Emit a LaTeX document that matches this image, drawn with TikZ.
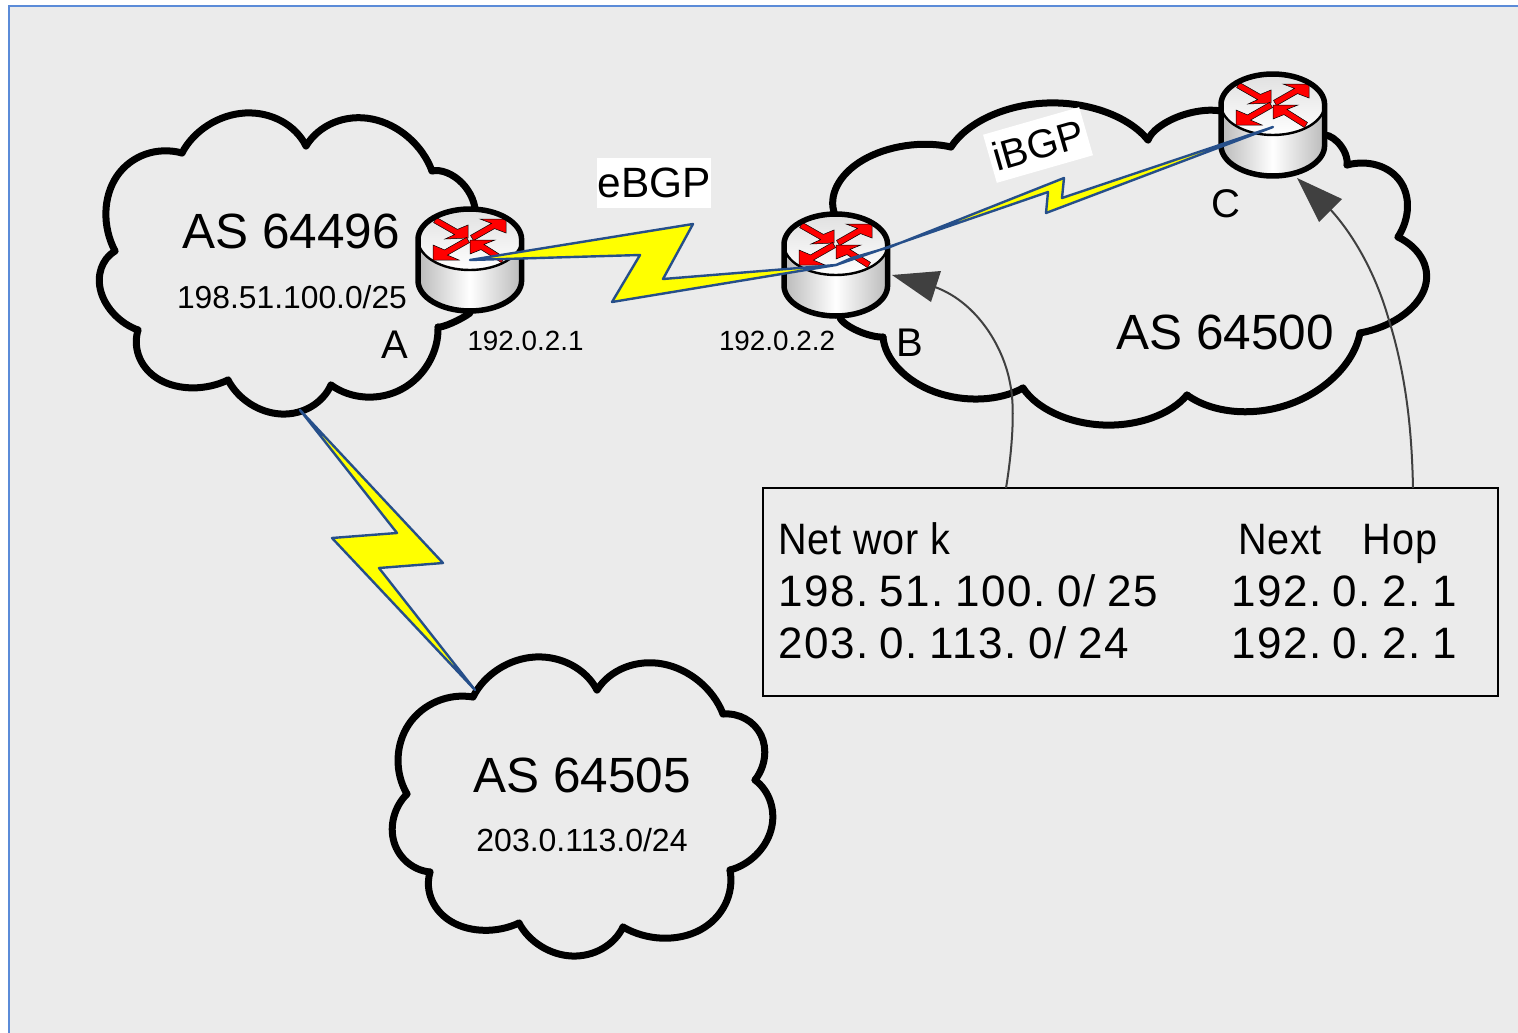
\documentclass[tikz,border=0pt]{standalone}
\usepackage{fontspec}
\setmainfont{Liberation Sans}
\newfontfamily\tblfont[LetterSpace=3.4]{Liberation Sans}
\newfontfamily\tblhead[FakeStretch=0.9,LetterSpace=1.8]{Liberation Sans}
\newcommand{\fs}[1]{\fontsize{#1}{#1}\selectfont}
\definecolor{bgc}{HTML}{EBEBEB}
\definecolor{framec}{HTML}{5B8BD8}
\definecolor{boltc}{HTML}{264F8A}
\definecolor{callc}{HTML}{404040}
\definecolor{boltfill}{HTML}{FFFF00}
\definecolor{arrowred}{HTML}{FF0000}
\tikzset{
  x=1pt,y=-1pt,
  cloudline/.style={draw=black,line width=7pt,line cap=round,line join=round},
  bolt/.style={draw=boltc,fill=boltfill,line width=2.4pt,line join=round},
  lbl/.style={anchor=base,inner sep=0pt,text=black},
  whitebox/.style={fill=white,inner sep=0pt,minimum height=50pt,text=black},
  tbltext/.style={anchor=base west,inner sep=0pt,text=black},
  callout/.style={draw=callc,line width=2pt},
  callhead/.style={fill=callc,draw=none},
  rarrow/.style={fill=arrowred,draw=black,line width=.5pt,line join=miter},
  routerpic/.pic={
    \path[shade,left color=black!27,right color=black!27,middle color=white]
      (418,239.5) -- (418,280.5) .. controls (418,297.4) and (441.5,311) .. (469.8,311)
      .. controls (498.1,311) and (521.6,297.4) .. (521.6,280.5) -- (521.6,239.5) -- cycle;
    \draw[line width=2.4pt,top color=black!12,bottom color=white]
      (469.8,239.5) ellipse [x radius=51.8,y radius=30.5];
    \draw[rarrow] (433.6,222.6) -- (454.6,234.6) -- (445,239) -- (468,238) -- (468,225) -- (457.4,229.4) -- (436.4,217.4) -- cycle;
    \draw[rarrow] (473.5,240.6) -- (494.5,228.6) -- (506,233) -- (506,219) -- (480,219) -- (491.5,223.4) -- (470.5,235.4) -- cycle;
    \draw[rarrow] (469.5,242.6) -- (447.5,255.1) -- (459,260) -- (433,260) -- (433,245) -- (444.5,249.9) -- (466.5,237.4) -- cycle;
    \draw[rarrow] (501.5,262.6) -- (481,249.6) -- (470,254) -- (470,240) -- (495,240) -- (484,244.4) -- (504.5,257.4) -- cycle;
    \draw[line width=5.5pt,line join=round]
      (418,239.5) -- (418,280.5) .. controls (418,297.4) and (441.5,311) .. (469.8,311)
      .. controls (498.1,311) and (521.6,297.4) .. (521.6,280.5) -- (521.6,239.5)
      .. controls (521.6,222.6) and (498.1,209) .. (469.8,209)
      .. controls (441.5,209) and (418,222.6) .. (418,239.5) -- cycle;
  }
}
% one bulge of a cloud: from (#1,#2) over (#3,#4) to (#5,#6)
\newcommand{\bulge}[6]{%
  \pgfmathsetmacro{\ux}{(#5-#1)/2}\pgfmathsetmacro{\uy}{(#6-#2)/2}%
  \pgfmathsetmacro{\vx}{#3-(#1+#5)/2}\pgfmathsetmacro{\vy}{#4-(#2+#6)/2}%
  \pgfmathsetmacro{\ax}{#1+.6*\vx+.18*\ux}\pgfmathsetmacro{\ay}{#2+.6*\vy+.18*\uy}%
  \pgfmathsetmacro{\bx}{#3-.42*\ux}\pgfmathsetmacro{\by}{#4-.42*\uy}%
  \pgfmathsetmacro{\cx}{#3+.42*\ux}\pgfmathsetmacro{\cy}{#4+.42*\uy}%
  \pgfmathsetmacro{\dx}{#5+.6*\vx-.18*\ux}\pgfmathsetmacro{\dy}{#6+.6*\vy-.18*\uy}%
  \draw[cloudline] (#1,#2) .. controls (\ax,\ay) and (\bx,\by) .. (#3,#4)
    .. controls (\cx,\cy) and (\dx,\dy) .. (#5,#6);%
}
\begin{document}
\begin{tikzpicture}
\useasboundingbox (0,0) rectangle (1518,1033);
% background
\fill[bgc] (9,6) rectangle (1518,1033);
\draw[framec,line width=2.5pt] (9,1033) -- (9,6) -- (1518,6);

% cloud AS 64496
\bulge{115}{251}{117}{176}{182}{153}
\bulge{182}{153}{245}{113}{306}{146}
\bulge{306}{146}{372}{119}{432}{171}
\bulge{432}{171}{462}{183}{475}{215}
\bulge{470}{313}{452}{323}{438}{327}
\bulge{438}{327}{402}{389}{331}{385}
\bulge{331}{385}{281}{414}{228}{380}
\bulge{228}{380}{160}{380}{138}{330}
\bulge{138}{330}{101}{292}{115}{251}

% cloud AS 64505
\bulge{407}{794}{409}{724}{473}{697}
\bulge{473}{697}{535}{657}{597}{690}
\bulge{597}{690}{663}{664}{723}{714}
\bulge{723}{714}{761}{735}{755}{780}
\bulge{755}{780}{771}{830}{730}{870}
\bulge{730}{870}{700}{930}{623}{927}
\bulge{623}{927}{572}{956}{519}{923}
\bulge{519}{923}{452}{922}{430}{872}
\bulge{430}{872}{394}{842}{407}{794}

% cloud AS 64500
\bulge{835}{215}{863}{160}{951}{147}
\bulge{951}{147}{1047}{103}{1148}{140}
\bulge{1148}{140}{1180}{116}{1225}{112}
\bulge{1325}{135}{1341}{146}{1347}{165}
\bulge{1347}{165}{1400}{181}{1398}{237}
\bulge{1398}{237}{1424}{290}{1360}{333}
\bulge{1360}{333}{1290}{404}{1187}{395}
\bulge{1187}{395}{1103}{425}{1023}{388}
\bulge{1023}{388}{935}{392}{883}{337}
\bulge{883}{337}{858}{331}{840}{318}

% routers
\pic (routerA) at (0,0) {routerpic};
\pic (routerB) at (366,5) {routerpic};
\pic (routerC) at (803,-135) {routerpic};

% lightning bolts
\draw[bolt] (470,260) -- (693,224) -- (663,279) -- (836,265) -- (612,302) -- (640,255) -- cycle;
\draw[bolt] (1273,127) -- (1062,198) -- (1064,178) -- (890,247) -- (852,258) -- (836,265) -- (1048,192) -- (1046,213) -- cycle;
\draw[bolt] (300,410) -- (443,563) -- (379,568) -- (475,690) -- (332,538) -- (397,533) -- cycle;

% text
\node[lbl] (asa) at (291,248) {\fs{49.5}AS 64496};
\node[lbl] (neta) at (292,308) {\fs{31.8}198.51.100.0/25};
\node[lbl] (la) at (395,358) {\fs{40}A};
\node[lbl] (ipa) at (525.5,350) {\fs{27.8}192.0.2.1};
\node[lbl] (ipb) at (777,350) {\fs{27.8}192.0.2.2};
\node[lbl] (lb) at (910,356) {\fs{40}B};
\node[lbl] (lc) at (1226,217) {\fs{40}C};
\node[lbl] (asc) at (1225,349) {\fs{49.5}AS 64500};
\node[lbl] (asd) at (582,792) {\fs{49.5}AS 64505};
\node[lbl] (netd) at (582,851) {\fs{32}203.0.113.0/24};
\node[whitebox,minimum width=113pt] (ebgp) at (654,183) {\raisebox{1.5pt}{\fs{42.4}eBGP}};
\node[whitebox,minimum width=100pt,rotate=16] (ibgp) at (1038,145) {\fs{40}iBGP};

% table
\node[draw=black,line width=2pt,inner sep=0pt,minimum width=735pt,minimum height=208pt] (tbl) at (1130.5,592) {};
\node[tbltext] (t1a) at (778,554) {\fs{44}\tblhead Net wor k};
\node[tbltext] (t1b) at (1238,554) {\fs{44}\tblhead Next\hspace{41pt}Hop};
\node[tbltext] (t2a) at (778,606) {\fs{44}\tblfont\spaceskip=7pt 198. 51. 100. 0/ \hspace{5pt}25};
\node[tbltext] (t2b) at (1231,606) {\fs{44}\tblfont\spaceskip=7pt 192. 0. 2. 1};
\node[tbltext] (t3a) at (778,658) {\fs{44}\tblfont\spaceskip=7pt 203. 0. 113. 0/ \hspace{5pt}24};
\node[tbltext] (t3b) at (1231,658) {\fs{44}\tblfont\spaceskip=7pt 192. 0. 2. 1};

% callouts
\coordinate (cb) at (1006,488);
\coordinate (cc) at (1413,488);
\draw[callout] (cb) .. controls (1011,458) and (1016,410) .. (1010,383) .. controls (1003,345) and (975,300) .. (932,286);
\fill[callhead] (892,275) -- (941,271) -- (931,302) -- cycle;
\draw[callout] (cc) .. controls (1412,440) and (1408,380) .. (1388,317) .. controls (1375,272) and (1352,232) .. (1328,207);
\fill[callhead] (1297,178) -- (1342,199) -- (1319,222) -- cycle;
\end{tikzpicture}
\end{document}
